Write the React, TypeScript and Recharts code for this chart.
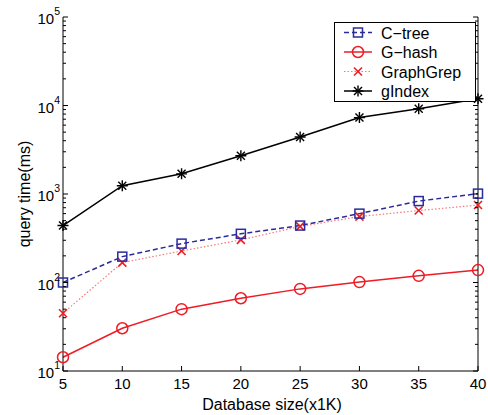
import { LineChart, Line, XAxis, YAxis, Legend } from 'recharts';

const sizes = [5, 10, 15, 20, 25, 30, 35, 40];
const cTree = [100, 196, 275, 355, 440, 600, 832, 1010];
const gHash = [14.3, 30.4, 50, 66.4, 84.7, 101, 119, 138];
const graphGrep = [45, 168, 227, 303, 430, 556, 650, 750];
const gIndex = [440, 1240, 1690, 2700, 4400, 7300, 9200, 11900];

const xTicks = [5, 10, 15, 20, 25, 30, 35, 40];
const decades = [1, 2, 3, 4];

const data = sizes.map((s, i) => ({
  size: s,
  cTree: cTree[i],
  gHash: gHash[i],
  graphGrep: graphGrep[i],
  gIndex: gIndex[i],
}));

// major + minor log ticks
const yTicks: number[] = [];
decades.forEach((d) => {
  for (let k = 1; k <= 9; k++) yTicks.push(k * Math.pow(10, d));
});
yTicks.push(100000);

const FONT = '"Liberation Sans", Arial, sans-serif';
const BLUE = '#2b2b9c';
const RED = '#ee1c24';
const PINK = '#f47a7a';

const isMajor = (v: number) => Math.abs(Math.log10(v) - Math.round(Math.log10(v))) < 1e-6;

const Square = ({ cx, cy }: any) => (
  <rect x={cx - 4.5} y={cy - 4.5} width={9} height={9} fill="none" stroke={BLUE} strokeWidth={1.5} />
);
const Circle = ({ cx, cy }: any) => (
  <circle cx={cx} cy={cy} r={5.5} fill="none" stroke={RED} strokeWidth={1.5} />
);
const Cross = ({ cx, cy }: any) => (
  <g stroke={RED} strokeWidth={1.6}>
    <line x1={cx - 4} y1={cy - 4} x2={cx + 4} y2={cy + 4} />
    <line x1={cx - 4} y1={cy + 4} x2={cx + 4} y2={cy - 4} />
  </g>
);
const Star = ({ cx, cy }: any) => (
  <g stroke="#000" strokeWidth={1.4}>
    <line x1={cx - 5.5} y1={cy} x2={cx + 5.5} y2={cy} />
    <line x1={cx} y1={cy - 5.5} x2={cx} y2={cy + 5.5} />
    <line x1={cx - 4} y1={cy - 4} x2={cx + 4} y2={cy + 4} />
    <line x1={cx - 4} y1={cy + 4} x2={cx + 4} y2={cy - 4} />
  </g>
);

const LeftTick = ({ x, y, payload }: any) => {
  const v = payload.value;
  const major = isMajor(v);
  return (
    <g>
      <line x1={x} x2={x + (major ? 5 : 3)} y1={y} y2={y} stroke="#000" />
      {major && (
        <text x={x - 3} y={y + 7} textAnchor="end" fontSize={15} fill="#000" fontFamily={FONT}>
          10<tspan dy={-9} fontSize={10.5}>{Math.round(Math.log10(v))}</tspan>
        </text>
      )}
    </g>
  );
};

const RightTick = ({ x, y, payload }: any) => {
  const major = isMajor(payload.value);
  return <line x1={x} x2={x - (major ? 5 : 3)} y1={y} y2={y} stroke="#000" />;
};

const BottomTick = ({ x, y, payload }: any) => (
  <g>
    <line x1={x} x2={x} y1={y} y2={y - 5} stroke="#000" />
    <text x={x} y={y + 18} textAnchor="middle" fontSize={15} fill="#000" fontFamily={FONT}>
      {payload.value}
    </text>
  </g>
);

const TopTick = ({ x, y }: any) => <line x1={x} x2={x} y1={y} y2={y + 5} stroke="#000" />;

const legendItems = [
  { name: 'C\u2212tree', color: BLUE, dash: '5 3', width: 1.5, Marker: Square },
  { name: 'G\u2212hash', color: RED, dash: undefined, width: 1.5, Marker: Circle },
  { name: 'GraphGrep', color: PINK, dash: '1.5 2', width: 1.2, Marker: Cross },
  { name: 'gIndex', color: '#000', dash: undefined, width: 1.5, Marker: Star },
];

const LegendBox = () => (
  <svg width={142} height={80} style={{ display: 'block' }}>
    <rect x={0.5} y={0.5} width={141} height={79} fill="#fff" stroke="#000" />
    {legendItems.map((it, i) => {
      const cy = 10.5 + i * 19.5;
      const M = it.Marker;
      return (
        <g key={it.name}>
          <line x1={10} x2={38} y1={cy} y2={cy} stroke={it.color} strokeWidth={it.width} strokeDasharray={it.dash} />
          <M cx={24} cy={cy} />
          <text x={47} y={cy + 6} fontSize={16} fontFamily={FONT} fill="#000">
            {it.name}
          </text>
        </g>
      );
    })}
  </svg>
);

export default function App() {
  return (
    <div style={{ position: 'absolute', left: 0, top: 0, width: 488, height: 415, background: '#fff' }}>
      <LineChart width={488} height={415} data={data} margin={{ top: 17, right: 0, bottom: 0, left: 0 }}>
        <XAxis
          dataKey="size"
          type="number"
          domain={[5, 40]}
          ticks={xTicks}
          interval={0}
          height={44}
          tickSize={0}
          tickMargin={0}
          tick={BottomTick}
          axisLine={{ stroke: '#000' }}
          label={{
            content: () => (
              <text x={272} y={409.5} textAnchor="middle" fontSize={16} fontFamily={FONT} fill="#000">
                Database size(x1K)
              </text>
            ),
          }}
        />
        <XAxis
          xAxisId="top"
          orientation="top"
          dataKey="size"
          type="number"
          domain={[5, 40]}
          ticks={xTicks}
          interval={0}
          height={0}
          tickSize={0}
          tickMargin={0}
          tick={TopTick}
          axisLine={{ stroke: '#000' }}
        />
        <YAxis
          type="number"
          scale="log"
          domain={[10, 100000]}
          allowDataOverflow
          ticks={yTicks}
          interval={0}
          width={63}
          tickSize={0}
          tickMargin={0}
          tick={LeftTick}
          axisLine={{ stroke: '#000' }}
          label={{
            content: () => (
              <text
                x={30}
                y={194}
                transform="rotate(-90 30 194)"
                textAnchor="middle"
                fontSize={16}
                fontFamily={FONT}
                fill="#000"
              >
                query time(ms)
              </text>
            ),
          }}
        />
        <YAxis
          yAxisId="right"
          orientation="right"
          type="number"
          scale="log"
          domain={[10, 100000]}
          allowDataOverflow
          ticks={yTicks}
          interval={0}
          width={10}
          tickSize={0}
          tickMargin={0}
          tick={RightTick}
          axisLine={{ stroke: '#000' }}
        />
        <Legend
          layout="vertical"
          align="center"
          verticalAlign="middle"
          content={LegendBox}
          wrapperStyle={{ left: 334, top: 22, width: 142, height: 80 }}
        />
        <Line
          dataKey="gHash"
          stroke={RED}
          strokeWidth={1.5}
          dot={(p: any) => <Circle key={p.index} {...p} />}
          isAnimationActive={false}
        />
        <Line
          dataKey="graphGrep"
          stroke={PINK}
          strokeWidth={1.2}
          strokeDasharray="1.5 2"
          dot={(p: any) => <Cross key={p.index} {...p} />}
          isAnimationActive={false}
        />
        <Line
          dataKey="cTree"
          stroke={BLUE}
          strokeWidth={1.5}
          strokeDasharray="5 3"
          dot={(p: any) => <Square key={p.index} {...p} />}
          isAnimationActive={false}
        />
        <Line
          dataKey="gIndex"
          stroke="#000"
          strokeWidth={1.5}
          dot={(p: any) => <Star key={p.index} {...p} />}
          isAnimationActive={false}
        />
      </LineChart>
    </div>
  );
}
